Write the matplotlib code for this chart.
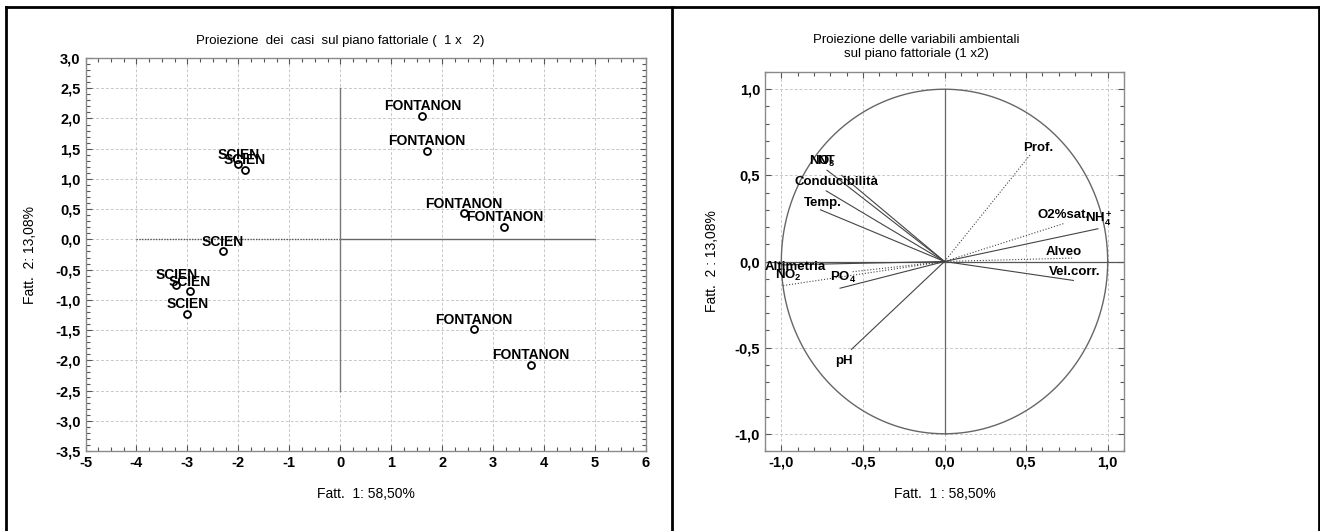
import numpy as np
import matplotlib
matplotlib.use("Agg")
import matplotlib.pyplot as plt
from matplotlib.lines import Line2D
from matplotlib.ticker import MultipleLocator, FuncFormatter

# ---- case scores on factors 1 and 2 ----
fontanon_x = [1.61, 1.70, 2.43, 3.22, 2.62, 3.74]
fontanon_y = [2.04, 1.46, 0.43, 0.21, -1.49, -2.08]
scien_x = [-2.00, -1.87, -2.30, -3.22, -2.95, -3.00]
scien_y = [1.24, 1.15, -0.20, -0.75, -0.86, -1.23]

# ---- environmental variable loadings on factors 1 and 2 ----
var_names = ["Prof.", "NO$_3$", "NT", "Conducibilità", "Temp.", "Altimetria",
             "NO$_2$", "PO$_4$", None, "pH", "O2%sat.", "NH$_4^+$", "Alveo",
             "Vel.corr."]
var_f1 = [0.53, -0.72, -0.63, -0.725, -0.76, -1.00, -0.99, -0.64, -0.57,
          -0.57, 0.73, 0.94, 0.79, 0.79]
var_f2 = [0.625, 0.53, 0.50, 0.41, 0.30, -0.02, -0.14, -0.155, -0.06,
          -0.51, 0.22, 0.19, 0.02, -0.11]

x_label = "Fatt.  1: 58,50%"
y_label = "Fatt.  2: 13,08%"
x_label_r = "Fatt.  1 : 58,50%"
y_label_r = "Fatt.  2 : 13,08%"

# drawing style per vector and label placement (offset from vector tip)
vec_ls = [":", "-", "-", "-", "-", "-", ":", "-", ":", "-", ":", "-", ":", "-"]
lab_off = [(-0.05, 0.035), (-0.11, 0.05), (-0.15, 0.085), (-0.195, 0.05),
           (-0.10, 0.04), (-0.10, -0.01), (-0.05, 0.06), (-0.06, 0.065),
           (0, 0), (-0.10, -0.07), (-0.16, 0.05), (-0.08, 0.06),
           (-0.17, 0.036), (-0.15, 0.05)]

plt.rcParams["font.family"] = ["Liberation Sans", "DejaVu Sans"]
plt.rcParams["mathtext.fontset"] = "custom"
plt.rcParams["mathtext.rm"] = "Liberation Sans:bold"
plt.rcParams["mathtext.it"] = "Liberation Sans:bold"
plt.rcParams["mathtext.bf"] = "Liberation Sans:bold"

W, H = 1320, 531
fig = plt.figure(figsize=(W / 100, H / 100), dpi=100)


def px_axes(l, t, r, b):
    return fig.add_axes([l / W, 1 - b / H, (r - l) / W, (b - t) / H])


def comma(v, _):
    return f"{v:.1f}".replace(".", ",")


def style_axes(ax):
    for s in ax.spines.values():
        s.set_color("#8a8a8a")
        s.set_linewidth(1.0)
    ax.tick_params(which="both", direction="in", top=True, right=True,
                   colors="#555555", labelcolor="black")
    ax.tick_params(which="major", length=4, width=0.8, labelsize=10.5)
    ax.tick_params(which="minor", length=3, width=0.8)
    ax.grid(True, which="major", color="#c8c8c8", linestyle=(0, (3, 2)),
            linewidth=0.7)
    ax.set_axisbelow(True)


# ---------- left: cases ----------
ax1 = px_axes(85.5, 58, 646, 451)
ax1.set_xlim(-5, 6)
ax1.set_ylim(-3.5, 3.0)
ax1.xaxis.set_major_locator(MultipleLocator(1))
ax1.xaxis.set_minor_locator(MultipleLocator(0.25))
ax1.yaxis.set_major_locator(MultipleLocator(0.5))
ax1.yaxis.set_minor_locator(MultipleLocator(0.1))
ax1.xaxis.set_major_formatter(FuncFormatter(lambda v, _: f"{v:.0f}"))
ax1.yaxis.set_major_formatter(FuncFormatter(comma))
style_axes(ax1)

ax1.plot([-4, 0], [0, 0], color="#555555", linestyle=(0, (1, 1)), lw=1.0)
ax1.plot([0, 5], [0, 0], color="#666666", linestyle="-", lw=1.0)
ax1.plot([0, 0], [-2.5, 2.5], color="#777777", linestyle="-", lw=1.0)

for xs, ys, name in [(fontanon_x, fontanon_y, "FONTANON"),
                     (scien_x, scien_y, "SCIEN")]:
    ax1.plot(xs, ys, "o", ms=5, mfc="white", mec="black", mew=1.3)
    for x, y in zip(xs, ys):
        ax1.annotate(name, (x, y), xytext=(0, 7), textcoords="offset points",
                     ha="center", va="center", fontsize=10,
                     fontweight="bold")

ax1.set_xlabel(x_label, fontsize=10)
ax1.set_ylabel(y_label, fontsize=10)
ax1.xaxis.set_label_coords(0.5, -0.092)
ax1.yaxis.set_label_coords(-0.0865, 0.5)
for lbl in ax1.get_xticklabels() + ax1.get_yticklabels():
    lbl.set_fontweight("bold")

fig.text(340 / W, 1 - 41 / H,
         "Proiezione  dei  casi  sul piano fattoriale (  1 x   2)",
         ha="center", va="center", fontsize=9.5)

# ---------- right: variables ----------
ax2 = px_axes(765, 72, 1124, 451)
ax2.set_xlim(-1.1, 1.1)
ax2.set_ylim(-1.1, 1.1)
for a in (ax2.xaxis, ax2.yaxis):
    a.set_major_locator(MultipleLocator(0.5))
    a.set_minor_locator(MultipleLocator(0.1))
    a.set_major_formatter(FuncFormatter(comma))
style_axes(ax2)

t = np.linspace(0, 2 * np.pi, 361)
ax2.plot(np.cos(t), np.sin(t), color="#666666", lw=1.0)
ax2.plot([-1.1, 1.1], [0, 0], color="#555555", lw=0.9)
ax2.plot([0, 0], [-1, 1], color="#666666", lw=0.9)

for name, x, y, ls, (dx, dy) in zip(var_names, var_f1, var_f2, vec_ls,
                                    lab_off):
    ax2.plot([0, x], [0, y], color="#444444", lw=0.8, linestyle=ls)
    if name:
        ax2.text(x + dx, y + dy, name, ha="left", va="center", fontsize=9.5,
                 fontweight="bold")

ax2.set_xlabel(x_label_r, fontsize=10)
ax2.set_ylabel(y_label_r, fontsize=10)
ax2.xaxis.set_label_coords(0.5, -0.095)
ax2.yaxis.set_label_coords(-0.128, 0.5)
for lbl in ax2.get_xticklabels() + ax2.get_yticklabels():
    lbl.set_fontweight("bold")

fig.text(916 / W, 1 - 40 / H, "Proiezione delle variabili ambientali",
         ha="center", va="center", fontsize=9.5)
fig.text(916 / W, 1 - 54 / H, "sul piano fattoriale (1 x2)",
         ha="center", va="center", fontsize=9.5)

# ---------- panel frames ----------
lw_frame = 2.0
for xs, ys in [([6 / W, 6 / W], [0, 1 - 6.5 / H]),
               ([6 / W, 1319 / W], [1 - 6.5 / H, 1 - 6.5 / H]),
               ([672 / W, 672 / W], [0, 1 - 6.5 / H]),
               ([1318.5 / W, 1318.5 / W], [0, 1 - 6.5 / H])]:
    fig.add_artist(Line2D(xs, ys, transform=fig.transFigure, color="black",
                          lw=lw_frame))

fig.savefig("out.png", dpi=100)
